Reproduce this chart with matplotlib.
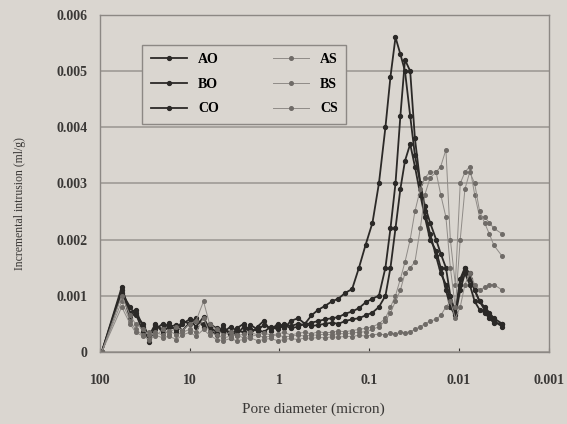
import numpy as np
import matplotlib
matplotlib.use("Agg")
import matplotlib.pyplot as plt
from matplotlib.ticker import FixedLocator, FixedFormatter

plt.rcParams['font.family'] = ['Liberation Serif', 'DejaVu Serif']
plt.rcParams['font.weight'] = 'bold'

# pore diameter (micron), same pressure steps for all samples
diam = [95, 57, 46, 40, 33, 28, 24, 20, 17, 14,
        12, 10, 8.5, 7.0, 6.0, 5.0, 4.2, 3.5, 3.0, 2.5,
        2.1, 1.75, 1.5, 1.25, 1.05, 0.88, 0.75, 0.62, 0.52, 0.44,
        0.37, 0.31, 0.26, 0.22, 0.185, 0.155, 0.13, 0.11, 0.092, 0.078,
        0.066, 0.058, 0.051, 0.045, 0.040, 0.035, 0.031, 0.027, 0.024, 0.021,
        0.018, 0.016, 0.014, 0.0125, 0.011, 0.0097, 0.0086, 0.0076, 0.0067, 0.0059,
        0.0052, 0.0046, 0.0041, 0.0033]

# incremental intrusion (ml/g)
AO = [0.0, 0.00115, 0.00070, 0.00075, 0.00045, 0.00018, 0.00048, 0.00040, 0.00052, 0.00035,
      0.00050, 0.00058, 0.00045, 0.00062, 0.00040, 0.00030, 0.00048, 0.00025, 0.00042, 0.00050,
      0.00032, 0.00045, 0.00055, 0.00038, 0.00050, 0.00042, 0.00055, 0.00060, 0.00050, 0.00065,
      0.00075, 0.00082, 0.00090, 0.00095, 0.00105, 0.00112, 0.00150, 0.00190, 0.00230, 0.00300,
      0.00400, 0.00490, 0.00560, 0.00530, 0.00500, 0.00420, 0.00350, 0.00300, 0.00250, 0.00210,
      0.00170, 0.00140, 0.00120, 0.00090, 0.00070, 0.00130, 0.00150, 0.00140, 0.00110, 0.00090,
      0.00080, 0.00070, 0.00060, 0.00050]
BO = [0.0, 0.00105, 0.00080, 0.00065, 0.00050, 0.00025, 0.00040, 0.00050, 0.00045, 0.00040,
      0.00055, 0.00050, 0.00055, 0.00050, 0.00045, 0.00035, 0.00040, 0.00035, 0.00030, 0.00045,
      0.00040, 0.00038, 0.00048, 0.00042, 0.00045, 0.00050, 0.00046, 0.00050, 0.00048, 0.00052,
      0.00055, 0.00058, 0.00060, 0.00062, 0.00068, 0.00072, 0.00078, 0.00088, 0.00095, 0.00100,
      0.00150, 0.00220, 0.00300, 0.00420, 0.00520, 0.00500, 0.00380, 0.00300, 0.00260, 0.00230,
      0.00200, 0.00175, 0.00150, 0.00100, 0.00070, 0.00120, 0.00150, 0.00130, 0.00110, 0.00090,
      0.00075, 0.00065, 0.00055, 0.00045]
CO = [0.0, 0.00110, 0.00060, 0.00070, 0.00035, 0.00030, 0.00050, 0.00035, 0.00045, 0.00048,
      0.00038, 0.00052, 0.00060, 0.00045, 0.00050, 0.00042, 0.00035, 0.00045, 0.00038, 0.00035,
      0.00048, 0.00040, 0.00035, 0.00045, 0.00040, 0.00048, 0.00042, 0.00045, 0.00050, 0.00046,
      0.00048, 0.00050, 0.00052, 0.00050, 0.00055, 0.00058, 0.00060, 0.00065, 0.00070, 0.00080,
      0.00100, 0.00150, 0.00220, 0.00290, 0.00340, 0.00370, 0.00330, 0.00280, 0.00240, 0.00200,
      0.00180, 0.00150, 0.00110, 0.00080, 0.00065, 0.00110, 0.00140, 0.00120, 0.00090, 0.00075,
      0.00070, 0.00060, 0.00052, 0.00050]
AS = [0.0, 0.00090, 0.00055, 0.00040, 0.00030, 0.00035, 0.00028, 0.00040, 0.00032, 0.00045,
      0.00038, 0.00050, 0.00055, 0.00090, 0.00050, 0.00040, 0.00030, 0.00035, 0.00028, 0.00032,
      0.00035, 0.00030, 0.00034, 0.00030, 0.00032, 0.00035, 0.00030, 0.00033, 0.00035, 0.00032,
      0.00036, 0.00034, 0.00035, 0.00037, 0.00036, 0.00038, 0.00040, 0.00042, 0.00045, 0.00050,
      0.00060, 0.00080, 0.00100, 0.00130, 0.00160, 0.00200, 0.00250, 0.00290, 0.00310, 0.00320,
      0.00320, 0.00330, 0.00360, 0.00200, 0.00120, 0.00300, 0.00320, 0.00330, 0.00280, 0.00240,
      0.00240, 0.00230, 0.00220, 0.00210]
BS = [0.0, 0.00100, 0.00065, 0.00050, 0.00040, 0.00030, 0.00035, 0.00030, 0.00038, 0.00030,
      0.00035, 0.00040, 0.00035, 0.00060, 0.00035, 0.00030, 0.00025, 0.00028, 0.00030, 0.00025,
      0.00028, 0.00030, 0.00026, 0.00028, 0.00030, 0.00027, 0.00028, 0.00030, 0.00028, 0.00030,
      0.00030, 0.00032, 0.00030, 0.00033, 0.00032, 0.00034, 0.00035, 0.00036, 0.00040, 0.00045,
      0.00055, 0.00070, 0.00090, 0.00110, 0.00140, 0.00150, 0.00160, 0.00220, 0.00280, 0.00310,
      0.00320, 0.00280, 0.00240, 0.00150, 0.00080, 0.00200, 0.00290, 0.00320, 0.00300, 0.00250,
      0.00230, 0.00210, 0.00190, 0.00170]
CS = [0.0, 0.00080, 0.00050, 0.00035, 0.00028, 0.00022, 0.00030, 0.00025, 0.00028, 0.00022,
      0.00030, 0.00035, 0.00028, 0.00040, 0.00030, 0.00022, 0.00020, 0.00024, 0.00020, 0.00022,
      0.00025, 0.00020, 0.00022, 0.00024, 0.00020, 0.00022, 0.00024, 0.00022, 0.00025, 0.00024,
      0.00026, 0.00025, 0.00027, 0.00026, 0.00028, 0.00027, 0.00030, 0.00028, 0.00030, 0.00032,
      0.00030, 0.00033, 0.00032, 0.00035, 0.00034, 0.00036, 0.00040, 0.00045, 0.00050, 0.00055,
      0.00058, 0.00065, 0.00080, 0.00090, 0.00060, 0.00080, 0.00120, 0.00140, 0.00120, 0.00110,
      0.00115, 0.00120, 0.00120, 0.00110]

x_ticks = [100, 10, 1, 0.1, 0.01, 0.001]
x_labels = ["100", "10", "1", "0.1", "0.01", "0.001"]
y_ticks = [0, 0.001, 0.002, 0.003, 0.004, 0.005, 0.006]
y_labels = ["0", "0.001", "0.002", "0.003", "0.004", "0.005", "0.006"]

bg = '#dad6d0'
dark = '#2b2927'
light = '#8f8b87'
txt = '#3a3836'

fig = plt.figure(figsize=(5.67, 4.24), dpi=100, facecolor=bg)
ax1 = fig.add_axes([0.176, 0.17, 0.792, 0.795])
ax1.set_facecolor(bg)

ax1.plot(diam, AO, '-o', color=dark, lw=1.3, ms=2.8, label="AO")
ax1.plot(diam, BO, '-o', color=dark, lw=1.3, ms=2.8, label="BO")
ax1.plot(diam, CO, '-o', color=dark, lw=1.3, ms=2.8, label="CO")
ax1.plot(diam, AS, '-o', color=light, lw=0.7, ms=2.6, mfc='#6f6b67', mec='#6f6b67', label="AS")
ax1.plot(diam, BS, '-o', color=light, lw=0.7, ms=2.6, mfc='#6f6b67', mec='#6f6b67', label="BS")
ax1.plot(diam, CS, '-o', color=light, lw=0.7, ms=2.6, mfc='#6f6b67', mec='#6f6b67', label="CS")

ax1.set_xscale('log')
ax1.set_xlim(100, 0.001)
ax1.set_ylim(0, 0.006)
ax1.xaxis.set_major_locator(FixedLocator(x_ticks))
ax1.xaxis.set_major_formatter(FixedFormatter(x_labels))
ax1.xaxis.set_minor_locator(FixedLocator([]))
ax1.yaxis.set_major_locator(FixedLocator(y_ticks))
ax1.yaxis.set_major_formatter(FixedFormatter(y_labels))

ax1.tick_params(axis='both', colors=txt, labelsize=10, length=3, width=0.8)
ax1.tick_params(axis='x', pad=16, direction='in')
ax1.tick_params(axis='y', pad=9, length=0)
ax1.grid(axis='y', color='#9e9a96', lw=1.2)
for s in ax1.spines.values():
    s.set_color('#8c8884')
    s.set_linewidth(1.0)

ax1.set_ylabel("Incremental intrusion (ml/g)", fontsize=8.5, color=txt)
ax1.yaxis.set_label_coords(-0.165, 0.44)
ax1.set_xlabel("Pore diameter (micron)", fontsize=11, color=txt)
ax1.xaxis.set_label_coords(0.476, -0.15)

leg = ax1.legend(ncol=2, loc='upper left', bbox_to_anchor=(0.095, 0.912),
                 fontsize=10, frameon=True, fancybox=False, edgecolor='#8c8884',
                 facecolor=bg, framealpha=1, handlelength=2.6, columnspacing=3.9,
                 borderpad=0.6, labelspacing=0.85, borderaxespad=0)
leg.get_frame().set_linewidth(1.0)

fig.savefig("out.png", dpi=100, facecolor=bg)
